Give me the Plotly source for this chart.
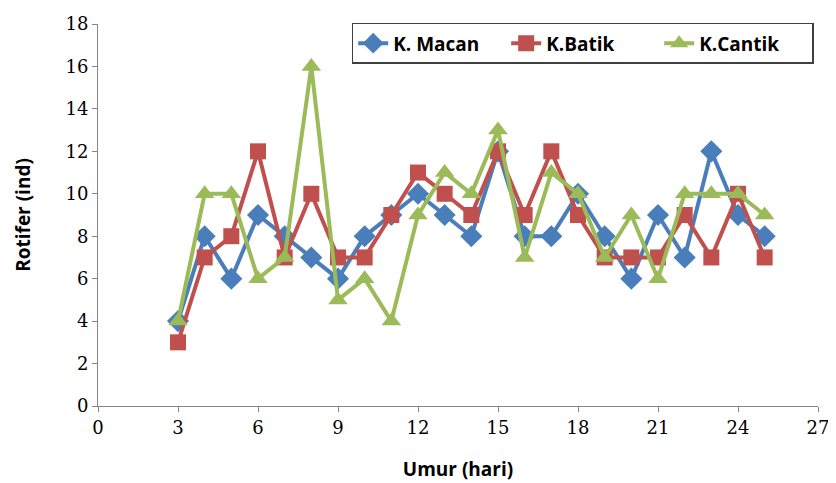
import plotly.graph_objects as go

days = list(range(3, 26))
macan = [4, 8, 6, 9, 8, 7, 6, 8, 9, 10, 9, 8, 12, 8, 8, 10, 8, 6, 9, 7, 12, 9, 8]
batik = [3, 7, 8, 12, 7, 10, 7, 7, 9, 11, 10, 9, 12, 9, 12, 9, 7, 7, 7, 9, 7, 10, 7]
cantik = [4, 10, 10, 6, 7, 16, 5, 6, 4, 9, 11, 10, 13, 7, 11, 10, 7, 9, 6, 10, 10, 10, 9]
x_ticks = list(range(0, 28, 3))
y_ticks = list(range(0, 19, 2))

series = [
    ("K. Macan", macan, "#4A7EBB", "diamond", 17),
    ("K.Batik", batik, "#C0504D", "square", 16),
    ("K.Cantik", cantik, "#9BBB59", "triangle-up", 17),
]

fig = go.Figure()
for name, vals, color, sym, size in series:
    fig.add_trace(go.Scatter(
        x=days, y=vals, name=name, mode="lines+markers",
        line=dict(color=color, width=4),
        marker=dict(symbol=sym, size=size, color=color),
    ))

axis_common = dict(
    showgrid=False, zeroline=False, showline=True, linecolor="#868686", linewidth=1,
    ticks="outside", ticklen=5, tickcolor="#868686", automargin=False,
    tickfont=dict(family="DejaVu Serif", size=18, color="#000000"),
)
title_font = dict(family="Open Sans", size=19, color="#000", weight="bold")
fig.update_xaxes(range=[0, 27], tickvals=x_ticks, **axis_common,
                 title=dict(text="Umur (hari)", font=title_font, standoff=26))
fig.update_yaxes(range=[0, 18], tickvals=y_ticks, **axis_common,
                 title=dict(text="Rotifer (ind)", font=title_font, standoff=29))

fig.update_layout(
    width=828, height=475,
    margin=dict(l=90, r=18, t=16, b=77),
    plot_bgcolor="white", paper_bgcolor="white",
    showlegend=True,
    legend=dict(orientation="h", x=0.994, xanchor="right", y=1.003, yanchor="top",
                bordercolor="#404040", borderwidth=1.5, bgcolor="white",
                font=dict(family="Open Sans", size=19, color="#000", weight="bold"),
                entrywidth=108, entrywidthmode="pixels",
                tracegroupgap=0),
)

fig.write_html("out.html")
